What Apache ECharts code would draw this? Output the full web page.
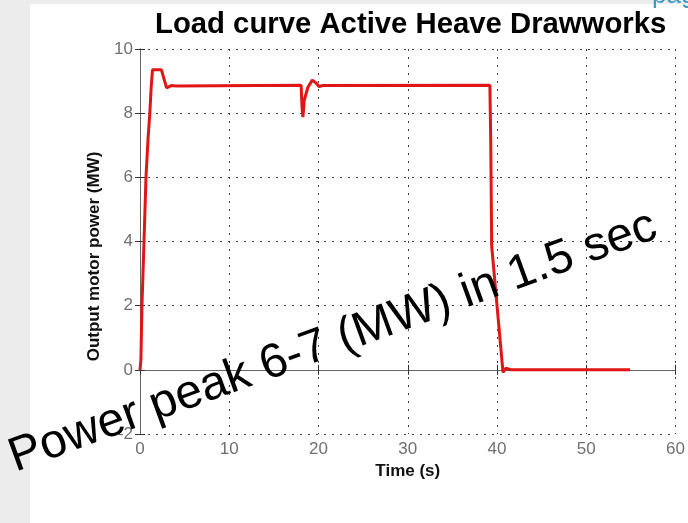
<!doctype html>
<html>
    <head>
        <meta charset="utf-8">
        <title>Load curve Active Heave Drawworks</title>
        <style>
            html, body { margin: 0; padding: 0; background: #fff; }
            #main { width: 688px; height: 523px; }
        </style>
    </head>
    <body>
        <div id="main"></div>
        <script src="https://cdn.jsdelivr.net/npm/echarts@6/dist/echarts.min.js"></script>
        <script>
            // time (s) and output motor power (MW)
            var timeData = [0, 0.1, 0.22, 0.45, 0.67, 0.9, 1.1, 1.25, 1.4, 2.4, 2.98, 3.5, 4.0,
                18.05, 18.15, 18.25, 18.4, 18.8, 19.3, 19.7, 20.05, 20.5,
                39.2, 39.3, 39.4, 40.67, 41.0, 41.2, 41.6, 54.9];
            var powerData = [0, 0.3, 2, 4, 6, 7.2, 8, 8.8, 9.35, 9.35, 8.79, 8.86, 8.85,
                8.87, 8.2, 7.88, 8.4, 8.8, 9.03, 8.95, 8.83, 8.86,
                8.87, 7.0, 3.86, -0.08, 0.05, 0.07, 0, 0];

            var xTicks = { min: 0, max: 60, interval: 10 };
            var yTicks = { min: -2, max: 10, interval: 2 };

            var font = 'Liberation Sans, Arial, sans-serif';
            var chart = echarts.init(document.getElementById('main'));

            var lineData = timeData.map(function (t, i) {
                return [t, powerData[i]];
            });

            var grid = {
                splitLine: {
                    show: true,
                    lineStyle: { color: '#444', width: 1, type: [2, 6] }
                },
                axisLine: { show: true, lineStyle: { color: '#666', width: 1 } },
                axisTick: { show: true, inside: true, length: 5, lineStyle: { color: '#333' } }
            };

            chart.setOption({
                backgroundColor: '#fff',
                animation: false,
                title: {
                    text: 'Load curve Active Heave Drawworks',
                    left: 150,
                    top: 5,
                    textStyle: {
                        fontFamily: font,
                        fontWeight: 'bold',
                        fontSize: 29.3,
                        color: '#000'
                    }
                },
                grid: {
                    left: 140,
                    right: 11,
                    top: 49,
                    bottom: 89
                },
                xAxis: [{
                    type: 'value',
                    min: xTicks.min,
                    max: xTicks.max,
                    interval: xTicks.interval,
                    position: 'bottom',
                    name: 'Time (s)',
                    nameLocation: 'middle',
                    nameGap: 28,
                    nameTextStyle: { fontFamily: font, fontWeight: 'bold', fontSize: 17, color: '#111' },
                    axisLine: grid.axisLine,
                    axisTick: grid.axisTick,
                    splitLine: grid.splitLine,
                    axisLabel: { fontFamily: font, fontSize: 17, color: '#707070', margin: 7 }
                }, {
                    type: 'value',
                    min: xTicks.min,
                    max: xTicks.max,
                    interval: xTicks.interval,
                    position: 'top',
                    axisLine: grid.axisLine,
                    axisTick: grid.axisTick,
                    splitLine: { show: false },
                    axisLabel: { show: false }
                }],
                yAxis: [{
                    type: 'value',
                    min: yTicks.min,
                    max: yTicks.max,
                    interval: yTicks.interval,
                    position: 'left',
                    name: 'Output motor power (MW)',
                    nameLocation: 'middle',
                    nameGap: 37,
                    nameRotate: 90,
                    nameTextStyle: {
                        fontFamily: font, fontWeight: 'bold', fontSize: 17, color: '#111',
                        padding: [0, 30, 0, 0]
                    },
                    axisLine: grid.axisLine,
                    axisTick: grid.axisTick,
                    splitLine: grid.splitLine,
                    axisLabel: { fontFamily: font, fontSize: 17, color: '#707070', margin: 7 }
                }, {
                    type: 'value',
                    min: yTicks.min,
                    max: yTicks.max,
                    interval: yTicks.interval,
                    position: 'right',
                    axisLine: grid.axisLine,
                    axisTick: grid.axisTick,
                    splitLine: { show: false },
                    axisLabel: { show: false }
                }],
                graphic: [
                    {
                        type: 'rect',
                        z: -10,
                        shape: { x: 0, y: 0, width: 30, height: 523 },
                        style: { fill: '#ececec' }
                    },
                    {
                        type: 'rect',
                        z: -10,
                        shape: { x: 0, y: 0, width: 688, height: 4 },
                        style: { fill: '#ececec' }
                    },
                    {
                        type: 'text',
                        z: 50,
                        x: 652,
                        y: -17,
                        style: {
                            text: 'page',
                            fontFamily: font,
                            fontSize: 26,
                            fill: '#3b9cc4'
                        }
                    },
                    {
                        type: 'text',
                        z: 100,
                        x: 333,
                        y: 342,
                        rotation: 20 * Math.PI / 180,
                        style: {
                            text: 'Power peak 6-7 (MW) in 1.5 sec',
                            fontFamily: font,
                            fontSize: 48,
                            fill: '#000',
                            align: 'center',
                            verticalAlign: 'middle'
                        }
                    }
                ],
                series: [{
                    type: 'line',
                    xAxisIndex: 0,
                    yAxisIndex: 0,
                    showSymbol: false,
                    symbol: 'none',
                    lineStyle: { color: '#e01515', width: 3 },
                    data: lineData
                }]
            });

            window.onresize = chart.resize;
        </script>
    </body>
</html>
